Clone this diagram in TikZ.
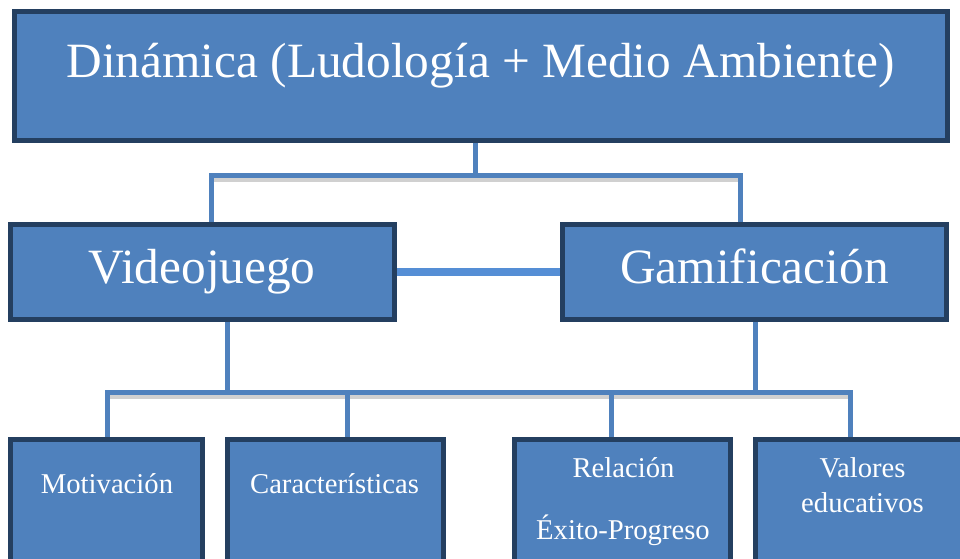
\documentclass[tikz,border=0pt]{standalone}
\usepackage{fontspec}
\setmainfont{Liberation Serif}
\usetikzlibrary{fit,backgrounds}
\definecolor{boxfill}{HTML}{4F81BD}
\definecolor{boxline}{HTML}{243F60}
\definecolor{midline}{HTML}{558ED5}
\definecolor{shade}{HTML}{D0D0D0}
\begin{document}
\begin{tikzpicture}[x=0.75pt,y=-0.75pt,
  box/.style={draw=boxline,fill=boxfill,line width=3.75pt,inner sep=0pt,rectangle},
  conn/.style={draw=boxfill,line width=3.75pt,line join=miter,line cap=rect},
  midconn/.style={draw=midline,line width=5.6pt},
  shadowline/.style={draw=shade,line width=3.4pt},
  bigtext/.style={text=white,anchor=base,inner sep=0pt,font=\fontsize{37}{44}\selectfont},
  smalltext/.style={text=white,anchor=base,inner sep=0pt,font=\fontsize{21.5}{26}\selectfont}]
\useasboundingbox (0,0) rectangle (960,558);
\clip (0,0) rectangle (960,558);

% boxes
\node[box,fit={(14.5,11.5) (947.5,140.5)}] (top) {};
\node[box,fit={(10.5,224.5) (394.5,319.5)}] (vj) {};
\node[box,fit={(562.5,224.5) (946.5,319.5)}] (gm) {};
\node[box,fit={(10.5,439.5) (202.5,600)}] (mot) {};
\node[box,fit={(227.5,439.5) (443.5,600)}] (car) {};
\node[box,fit={(514.5,439.5) (730.5,600)}] (rel) {};
\node[box,fit={(755.5,439.5) (970.5,600)}] (val) {};

% junction coordinates
\coordinate (jT) at (475.5,175.5);
\coordinate (jTL) at (211,175.5);
\coordinate (jTR) at (740.5,175.5);
\coordinate (jV) at (227,392);
\coordinate (jG) at (755,392);
\coordinate (jB1) at (107,392);
\coordinate (jB2) at (347,392);
\coordinate (jB3) at (611,392);
\coordinate (jB4) at (850,392);

\begin{scope}[on background layer]
  \draw[shadowline] ([yshift=-3.4pt]jTL) -- ([yshift=-3.4pt]jTR);
  \draw[shadowline] ([yshift=-3.4pt]jB1) -- ([yshift=-3.4pt]jB4);
  \draw[conn] (top.south -| jT) -- (jT);
  \draw[conn] (vj.north -| jTL) -- (jTL) -- (jTR) -- (gm.north -| jTR);
  \draw[midconn] (vj.east) -- (gm.west);
  \draw[conn] (vj.south -| jV) -- (jV);
  \draw[conn] (gm.south -| jG) -- (jG);
  \draw[conn] (mot.north -| jB1) -- (jB1) -- (jB4) -- (val.north -| jB4);
  \draw[conn] (jB2) -- (car.north -| jB2);
  \draw[conn] (jB3) -- (rel.north -| jB3);
\end{scope}

% texts
\node[bigtext] (t0) at (480.5,77) {Dinámica (Ludología + Medio Ambiente)};
\node[bigtext] (t1) at (202,283) {Videojuego};
\node[bigtext] (t2) at (754.5,283) {Gamificación};
\node[smalltext] (t3) at (107,493) {Motivación};
\node[smalltext] (t4) at (334.5,493) {Características};
\node[smalltext] (t5) at (623.5,477) {Relación};
\node[smalltext] (t6) at (623,539) {Éxito-Progreso};
\node[smalltext] (t7) at (862.5,477) {Valores};
\node[smalltext] (t8) at (862.5,512) {educativos};
\end{tikzpicture}
\end{document}
